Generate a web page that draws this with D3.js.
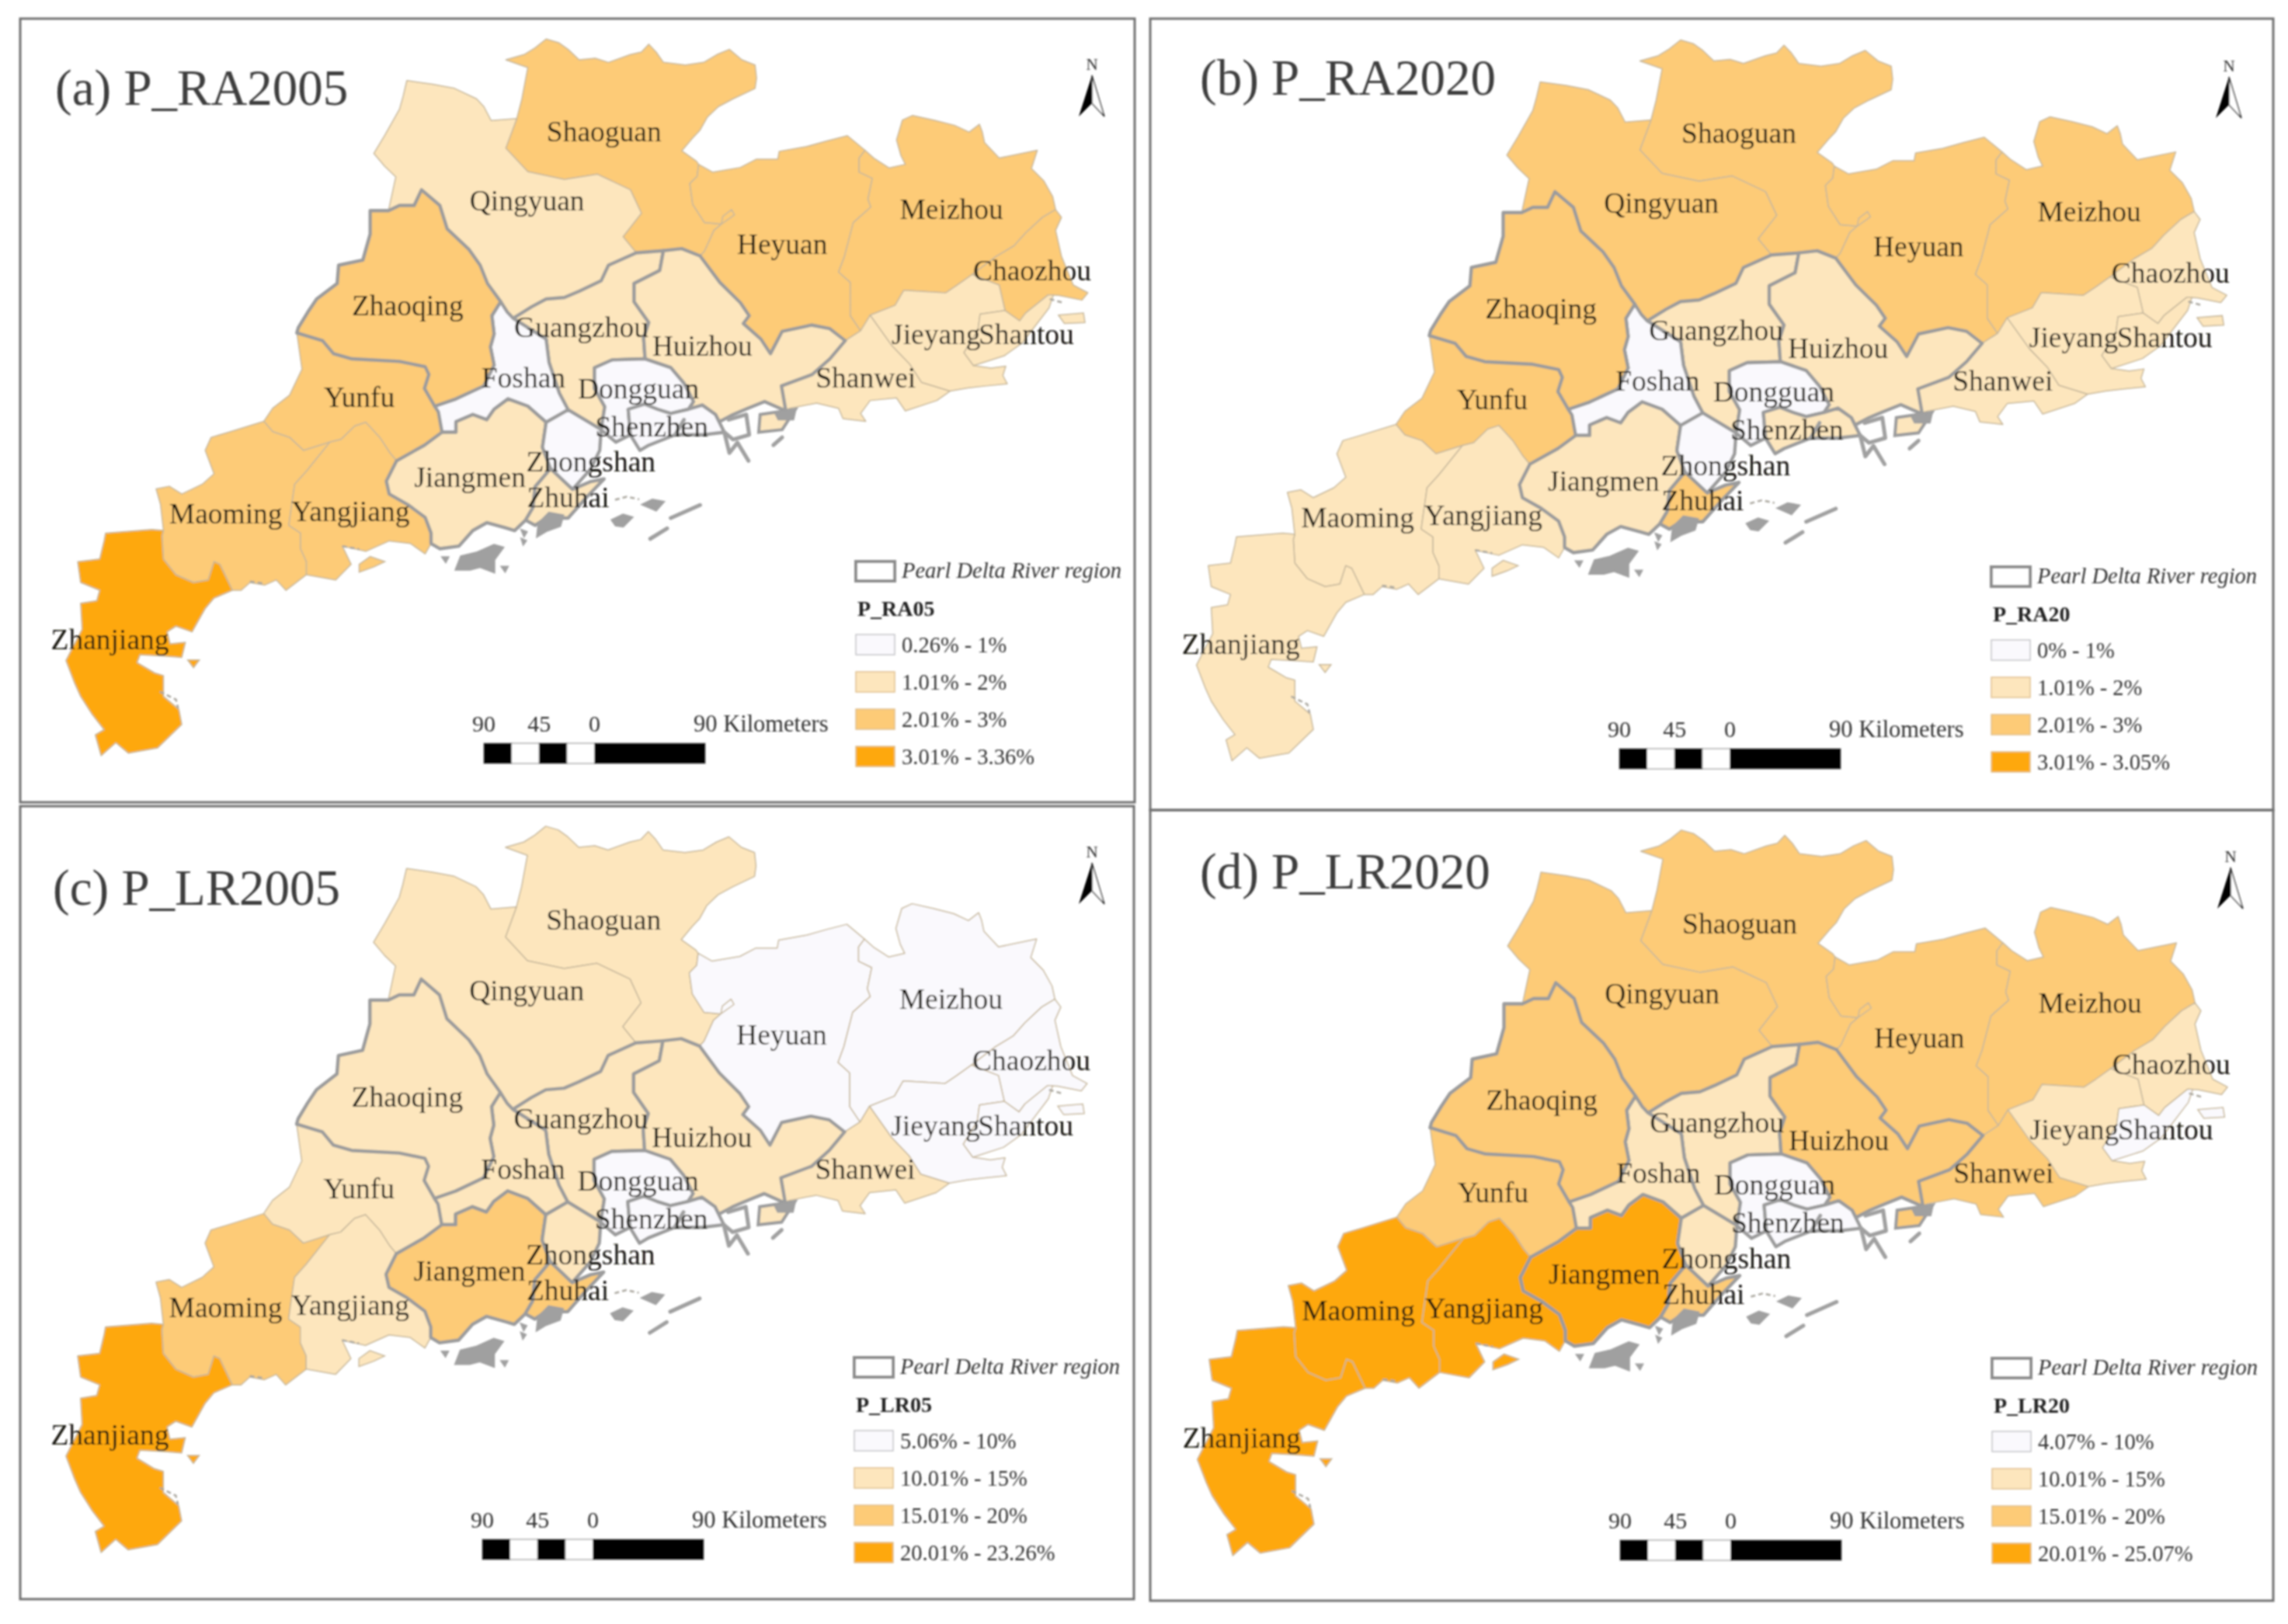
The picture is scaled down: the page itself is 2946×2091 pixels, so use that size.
<!DOCTYPE html>
<html>
<head>
<meta charset="utf-8">
<title>Pearl River Delta maps</title>
<script src="https://cdn.jsdelivr.net/npm/d3@7"></script>
<style>
html, body { margin: 0; padding: 0; background: #fff; }
svg { display: block; }
text { font-family: "Liberation Serif", serif; }
</style>
</head>
<body>
<script>
// Values: class 0..3 for each city in each panel
var cities = ['Shaoguan', 'Qingyuan', 'Heyuan', 'Meizhou', 'Chaozhou', 'Zhaoqing', 'Yunfu', 'Maoming', 'Yangjiang', 'Zhanjiang',
    'Guangzhou', 'Huizhou', 'Foshan', 'Dongguan', 'Shenzhen', 'Jiangmen', 'Zhongshan', 'Zhuhai', 'Shanwei', 'Jieyang', 'Shantou'];
var classRA2005 = [2, 1, 2, 2, 2, 2, 2, 2, 2, 3, 1, 1, 0, 0, 0, 1, 0, 1, 1, 1, 1];
var classRA2020 = [2, 2, 2, 2, 1, 2, 2, 1, 1, 1, 1, 1, 0, 0, 1, 1, 0, 2, 1, 1, 1];
var classLR2005 = [1, 1, 0, 0, 0, 1, 1, 2, 1, 3, 1, 1, 1, 0, 0, 2, 1, 2, 1, 0, 0];
var classLR2020 = [2, 2, 2, 2, 1, 2, 2, 3, 3, 3, 1, 2, 1, 0, 0, 3, 1, 2, 2, 1, 0];

var titles = ['(a) P_RA2005', '(b) P_RA2020', '(c) P_LR2005', '(d) P_LR2020'];
var legendTitles = ['P_RA05', 'P_RA20', 'P_LR05', 'P_LR20'];
var rangesRA2005 = ['0.26% - 1%', '1.01% - 2%', '2.01% - 3%', '3.01% - 3.36%'];
var rangesRA2020 = ['0% - 1%', '1.01% - 2%', '2.01% - 3%', '3.01% - 3.05%'];
var rangesLR2005 = ['5.06% - 10%', '10.01% - 15%', '15.01% - 20%', '20.01% - 23.26%'];
var rangesLR2020 = ['4.07% - 10%', '10.01% - 15%', '15.01% - 20%', '20.01% - 25.07%'];
var scaleBarKm = [-90, -67.5, -45, -22.5, 0, 90];
var scaleBarTicks = [-90, -45, 0];

var classColors = ['#faf9fd', '#fde6bd', '#fdcb77', '#fea80a'];
var prdCities = ['Guangzhou', 'Huizhou', 'Foshan', 'Dongguan', 'Shenzhen', 'Jiangmen', 'Zhongshan', 'Zhuhai', 'Zhaoqing'];

// Map outline in map units, shared boundaries kept once
var arcs = {
    shaoNorth: [[705, 228], [712, 190], [720, 130], [690, 115], [715, 105], [730, 92], [745, 75], [762, 82], [775, 95], [790, 115], [812, 112], [830, 120], [860, 105], [875, 100], [885, 85], [895, 100], [905, 120], [935, 125], [960, 120], [978, 105], [995, 95], [1012, 115], [1030, 125], [1032, 150], [1030, 170], [1000, 190], [980, 205], [965, 225], [955, 250], [945, 265], [930, 290], [950, 310], [953, 316]],
    shaoHeyuan: [[953, 316], [951, 339], [941, 353], [945, 393], [961, 428], [984, 431], [1002, 413], [998, 403], [986, 416], [984, 431], [974, 443], [961, 483], [955, 492]],
    shaoQing: [[705, 228], [690, 285], [720, 330], [770, 345], [815, 335], [860, 365], [875, 410], [850, 455], [868, 486]],
    shaoGz: [[868, 486], [905, 482]],
    shaoHz: [[905, 482], [930, 478], [955, 492]],
    qingOuter: [[705, 228], [670, 232], [660, 205], [650, 190], [620, 170], [590, 162], [555, 155], [550, 185], [545, 210], [525, 260], [510, 295], [525, 320], [540, 340], [530, 405]],
    qingZhao: [[530, 405], [545, 395], [565, 395], [575, 365], [600, 395], [610, 440], [640, 480], [655, 510], [665, 545], [683, 580]],
    qingFo: [[683, 580], [692, 600], [700, 612]],
    qingGz: [[700, 612], [725, 590], [745, 575], [770, 572], [790, 560], [820, 540], [830, 510], [868, 486]],
    heyNorth: [[953, 316], [972, 331], [1010, 322], [1032, 306], [1061, 306], [1063, 291], [1100, 282], [1128, 271], [1156, 261], [1180, 289]],
    heyMei: [[1180, 289], [1172, 304], [1172, 331], [1190, 343], [1184, 383], [1188, 398], [1164, 428], [1152, 493], [1144, 523], [1160, 543], [1160, 607], [1174, 636]],
    heyShan: [[1153, 655], [1174, 636]],
    hzHey: [[955, 492], [982, 543], [1010, 582], [1022, 607], [1014, 622], [1038, 652], [1051, 680], [1067, 637], [1107, 625], [1132, 632], [1153, 655]],
    meiNorth: [[1180, 289], [1192, 304], [1213, 323], [1235, 316], [1229, 299], [1223, 269], [1231, 231], [1245, 222], [1274, 231], [1302, 241], [1322, 254], [1336, 239], [1340, 254], [1343, 274], [1363, 304], [1415, 289], [1407, 324], [1424, 348], [1436, 378], [1440, 403]],
    meiChao: [[1440, 403], [1422, 418], [1399, 448], [1383, 473], [1359, 493], [1326, 528]],
    meiJie: [[1326, 528], [1306, 548], [1290, 563], [1233, 558], [1221, 587], [1187, 606]],
    meiShan: [[1187, 606], [1174, 636]],
    chaoOuter: [[1440, 403], [1448, 418], [1440, 443], [1448, 493], [1464, 548], [1484, 563], [1476, 577], [1444, 568], [1430, 567]],
    chaoShan: [[1430, 567], [1399, 602], [1391, 617], [1371, 597]],
    chaoJie: [[1371, 597], [1363, 548], [1326, 528]],
    jieShan: [[1371, 597], [1337, 604], [1334, 635], [1315, 678], [1328, 703]],
    jieCoast: [[1328, 703], [1352, 708], [1372, 704], [1368, 722], [1374, 738], [1345, 742], [1320, 746], [1296, 752]],
    jieShanwei: [[1296, 752], [1257, 735], [1241, 700], [1217, 665], [1187, 606]],
    shanCoast: [[1430, 567], [1437, 567], [1431, 592], [1394, 660], [1370, 684], [1328, 703]],
    swCoast: [[1296, 752], [1278, 770], [1235, 790], [1223, 765], [1187, 770], [1174, 795], [1181, 810], [1150, 805], [1144, 785], [1114, 775], [1077, 785], [1072, 790]],
    hzSw: [[1153, 655], [1132, 690], [1108, 720], [1066, 742], [1072, 790]],
    hzCoast: [[1072, 790], [1043, 772], [1020, 785], [1000, 797], [981, 811], [976, 797]],
    gzHz: [[905, 482], [900, 520], [865, 545], [865, 580], [885, 620], [878, 650], [880, 690]],
    dgHz: [[880, 690], [915, 707], [933, 737], [946, 772], [939, 787]],
    szHz: [[939, 787], [958, 779], [976, 797]],
    dgSz: [[939, 787], [915, 795], [897, 787], [879, 777], [857, 787], [860, 836]],
    szCoast: [[976, 797], [988, 831], [958, 836], [921, 836], [885, 856], [873, 866], [860, 836]],
    dgCoast: [[860, 836], [840, 850], [820, 826]],
    gzDg: [[880, 690], [835, 692], [811, 707], [811, 747], [825, 782], [820, 826]],
    gzZs: [[820, 826], [775, 788]],
    foGz: [[700, 612], [745, 652], [749, 697], [763, 756], [775, 788]],
    foZs: [[775, 788], [745, 812]],
    foJm: [[745, 812], [720, 781], [693, 767], [674, 787], [664, 807], [645, 797], [622, 811], [622, 831], [603, 831]],
    foYf: [[603, 831], [598, 792], [593, 781]],
    foZq: [[593, 781], [622, 767], [660, 742], [674, 702], [669, 667], [674, 642], [671, 607], [683, 580]],
    zqOuter: [[530, 405], [505, 405], [505, 450], [495, 500], [462, 510], [460, 545], [432, 575], [420, 600], [407, 630], [405, 640]],
    zqYf: [[405, 640], [440, 655], [455, 680], [480, 690], [545, 695], [580, 705], [585, 720], [579, 747], [593, 781]],
    yfOuter: [[360, 810], [372, 785], [395, 760], [412, 710], [405, 640]],
    jmYf: [[603, 831], [579, 856], [541, 886]],
    yfYj: [[541, 886], [532, 871], [518, 841], [499, 812], [484, 819], [465, 845], [450, 850]],
    yfMm: [[450, 850], [414, 866], [395, 841], [372, 830], [360, 810]],
    mmYj: [[450, 850], [418, 906], [402, 931], [398, 970], [394, 1010], [410, 1025], [410, 1055], [418, 1080], [418, 1105]],
    mmCoast: [[418, 1105], [390, 1135], [377, 1115], [361, 1125], [341, 1120], [329, 1135], [317, 1135]],
    zjMm: [[223, 1020], [221, 1030], [223, 1075], [240, 1105], [264, 1120], [284, 1115], [292, 1080], [300, 1085], [317, 1135]],
    mmOuter: [[223, 1020], [219, 970], [213, 940], [231, 935], [248, 950], [276, 931], [292, 911], [280, 866], [288, 841], [312, 831], [360, 810]],
    yjJm: [[541, 886], [527, 925], [531, 950], [556, 970], [580, 995], [588, 1025], [588, 1045]],
    yjCoast: [[588, 1045], [580, 1065], [560, 1045], [531, 1040], [499, 1060], [467, 1050], [479, 1085], [458, 1115], [418, 1105]],
    jmCoast: [[717, 1000], [702, 1020], [690, 1015], [664, 1005], [645, 1020], [626, 1050], [600, 1055], [588, 1045]],
    jmZs: [[745, 812], [740, 860], [751, 901]],
    jmZh: [[751, 901], [730, 936], [727, 976], [717, 1000]],
    zsCoast: [[820, 826], [818, 866], [806, 901], [781, 941]],
    zsZh: [[781, 941], [751, 901]],
    zhEast: [[781, 941], [806, 926], [824, 921], [800, 956], [775, 996], [745, 996], [730, 1010], [717, 1000]],
    zjOuter: [[223, 1020], [207, 1018], [144, 1025], [142, 1040], [136, 1075], [106, 1080], [110, 1120], [136, 1135], [132, 1155], [110, 1160], [112, 1210], [90, 1270], [102, 1314], [110, 1339], [126, 1374], [142, 1403], [130, 1413], [138, 1453], [158, 1428], [175, 1448], [215, 1438], [248, 1393], [244, 1364], [223, 1339], [223, 1299], [211, 1294], [187, 1274], [191, 1259], [228, 1262], [248, 1264], [253, 1235], [232, 1238], [228, 1215], [240, 1204], [262, 1215], [270, 1195], [280, 1170], [292, 1150], [317, 1135]]
};

var regionArcs = {
    Shaoguan: ['shaoNorth', 'shaoHeyuan', '-shaoHz', '-shaoGz', '-shaoQing'],
    Qingyuan: ['qingOuter', 'qingZhao', 'qingFo', 'qingGz', '-shaoQing'],
    Heyuan: ['heyNorth', 'heyMei', '-heyShan', '-hzHey', '-shaoHeyuan'],
    Meizhou: ['meiNorth', 'meiChao', 'meiJie', 'meiShan', '-heyMei'],
    Chaozhou: ['chaoOuter', 'chaoShan', 'chaoJie', '-meiChao'],
    Jieyang: ['-chaoJie', 'jieShan', 'jieCoast', 'jieShanwei', '-meiJie'],
    Shantou: ['-chaoShan', 'shanCoast', '-jieShan'],
    Shanwei: ['-jieShanwei', 'swCoast', '-hzSw', 'heyShan', '-meiShan'],
    Huizhou: ['shaoHz', 'hzHey', 'hzSw', 'hzCoast', '-szHz', '-dgHz', '-gzHz'],
    Guangzhou: ['qingGz', 'shaoGz', 'gzHz', 'gzDg', 'gzZs', '-foGz'],
    Dongguan: ['dgHz', 'dgSz', 'dgCoast', '-gzDg'],
    Shenzhen: ['szHz', 'szCoast', '-dgSz'],
    Foshan: ['foGz', 'foZs', 'foJm', 'foYf', 'foZq', 'qingFo'],
    Zhaoqing: ['zqOuter', 'zqYf', 'foZq', '-qingZhao'],
    Yunfu: ['yfOuter', 'zqYf', '-foYf', 'jmYf', 'yfYj', 'yfMm'],
    Maoming: ['-yfMm', 'mmYj', 'mmCoast', '-zjMm', 'mmOuter'],
    Yangjiang: ['-yfYj', 'yjJm', 'yjCoast', '-mmYj'],
    Zhanjiang: ['zjOuter', '-zjMm'],
    Jiangmen: ['-foJm', 'jmZs', 'jmZh', 'jmCoast', '-yjJm', '-jmYf'],
    Zhongshan: ['-foZs', '-gzZs', 'zsCoast', 'zsZh', '-jmZs'],
    Zhuhai: ['-zsZh', 'zhEast', '-jmZh']
};

// Islands that take the colour of their city
var cityIslands = [
    { city: 'Huizhou', ring: [[1037, 797], [1085, 787], [1067, 826], [1035, 831]] },
    { city: 'Yangjiang', ring: [[490, 1085], [505, 1070], [525, 1080], [510, 1090], [490, 1100]] },
    { city: 'Shantou', ring: [[1444, 606], [1478, 602], [1480, 620], [1452, 622]] },
    { city: 'Zhanjiang', ring: [[256, 1269], [272, 1269], [264, 1284]] }
];
// Grey islands and channels of the delta
var greyIslands = [
    [[622, 1095], [629, 1070], [650, 1063], [674, 1048], [686, 1053], [674, 1076], [674, 1100], [655, 1090], [641, 1095]],
    [[733, 1031], [735, 1006], [749, 986], [768, 991], [764, 1011], [745, 1021]],
    [[835, 1000], [850, 990], [862, 995], [850, 1012], [840, 1010]],
    [[877, 970], [890, 961], [905, 965], [895, 981]],
    [[1058, 795], [1085, 787], [1082, 806], [1062, 806]],
    [[604, 1072], [611, 1072], [608, 1080]],
    [[685, 1090], [692, 1090], [689, 1098]],
    [[712, 1020], [718, 1023], [715, 1030]],
    [[712, 1037], [717, 1040], [714, 1046]]
];
var greyLines = [
    [[915, 996], [955, 971]],
    [[887, 1036], [910, 1016]],
    [[988, 831], [995, 871], [1006, 851], [1021, 886]],
    [[994, 807], [1018, 797], [1022, 836], [1000, 845], [988, 831]],
    [[933, 807], [921, 836]],
    [[1055, 856], [1067, 841]]
];
var coastSpecks = [
    [[341, 1118], [361, 1122]],
    [[467, 1050], [490, 1056]],
    [[218, 1330], [240, 1345], [243, 1362]],
    [[839, 961], [855, 955], [872, 960]],
    [[1432, 575], [1450, 582]]
];

var labelAnchors = {
    Shaoguan: [824, 255], Qingyuan: [719, 388], Heyuan: [1067, 472], Meizhou: [1298, 405], Chaozhou: [1408, 522],
    Zhaoqing: [556, 590], Yunfu: [490, 765], Maoming: [308, 990], Yangjiang: [478, 985], Zhanjiang: [150, 1232],
    Guangzhou: [793, 632], Huizhou: [958, 667], Foshan: [714, 728], Dongguan: [871, 750], Shenzhen: [889, 822],
    Jiangmen: [641, 920], Zhongshan: [806, 890], Zhuhai: [775, 958], Shanwei: [1181, 728], Jieyang: [1277, 645], Shantou: [1400, 645]
};

// Layout of each panel: frame, map ranges, title, offsets of legend and north arrow
var panels = [
    { frame: [26, 24, 1461, 1033], xRange: [0, 1480], yRange: [0, 1050], title: [71, 135], legend: [0, 0], north: [0, 0], classes: classRA2005, ranges: rangesRA2005 },
    { frame: [1481, 24, 2927, 1043], xRange: [1455, 2947], yRange: [1, 1057], title: [1545, 122], legend: [1462, 7], north: [1464, 2], classes: classRA2020, ranges: rangesRA2020 },
    { frame: [26, 1038, 1460, 2059], xRange: [0, 1479], yRange: [1013, 2077], title: [68, 1165], legend: [-2, 1025], north: [0, 1014], classes: classLR2005, ranges: rangesLR2005 },
    { frame: [1481, 1043, 2927, 2061], xRange: [1456, 2948], yRange: [1018, 2081], title: [1545, 1144], legend: [1463, 1026], north: [1466, 1020], classes: classLR2020, ranges: rangesLR2020 }
];

var width = 2946, height = 2091;

function ringFromArcs(names) {
    var pts = [];
    names.forEach(function (name) {
        var rev = name.charAt(0) === '-',
            arc = arcs[rev ? name.slice(1) : name];
        pts = pts.concat(rev ? arc.slice().reverse() : arc);
    });
    return pts;
}

var svg = d3.select('body').append('svg')
    .attr('width', width)
    .attr('height', height)
    .attr('viewBox', [0, 0, width, height]);

svg.append('rect').attr('width', width).attr('height', height).attr('fill', '#fff');

// reference is a soft scan
svg.append('defs').append('filter').attr('id', 'soft')
    .attr('filterUnits', 'userSpaceOnUse')
    .attr('x', 0).attr('y', 0).attr('width', width).attr('height', height)
    .append('feGaussianBlur').attr('stdDeviation', 0.9);

var root = svg.append('g').attr('filter', 'url(#soft)');

panels.forEach(function (p, i) {
    var g = root.append('g').attr('class', 'panel'),
        x = d3.scaleLinear().domain([0, 1568]).range(p.xRange),
        y = d3.scaleLinear().domain([0, 1568]).range(p.yRange),
        line = d3.line().x(function (d) { return x(d[0]); }).y(function (d) { return y(d[1]); }),
        color = d3.scaleOrdinal().domain([0, 1, 2, 3]).range(classColors),
        cityClass = function (name) { return p.classes[cities.indexOf(name)]; };

    g.append('rect')
        .attr('x', p.frame[0]).attr('y', p.frame[1])
        .attr('width', p.frame[2] - p.frame[0]).attr('height', p.frame[3] - p.frame[1])
        .attr('fill', 'none').attr('stroke', '#707070').attr('stroke-width', 3);

    var outer = cities.filter(function (c) { return prdCities.indexOf(c) < 0; }),
        drawCity = function (c, strokeCol, sw) {
            g.append('path')
                .attr('class', 'city')
                .attr('d', line(ringFromArcs(regionArcs[c])) + 'Z')
                .attr('fill', color(cityClass(c)))
                .attr('stroke', strokeCol)
                .attr('stroke-width', sw)
                .attr('stroke-linejoin', 'round');
        };

    outer.forEach(function (c) { drawCity(c, '#c7b89c', 1.5); });

    g.selectAll('path.speck').data(coastSpecks).enter().append('path')
        .attr('class', 'speck')
        .attr('d', line)
        .attr('fill', 'none').attr('stroke', '#aaa79f').attr('stroke-width', 2.5)
        .attr('stroke-dasharray', '6 4');

    cityIslands.forEach(function (d) {
        g.append('path')
            .attr('d', line(d.ring) + 'Z')
            .attr('fill', color(cityClass(d.city)))
            .attr('stroke', prdCities.indexOf(d.city) < 0 ? '#c7b89c' : '#9c9c9c')
            .attr('stroke-width', prdCities.indexOf(d.city) < 0 ? 1.5 : 4);
    });

    prdCities.forEach(function (c) { drawCity(c, '#9c9c9c', 4.4); });

    g.selectAll('path.island').data(greyIslands).enter().append('path')
        .attr('class', 'island')
        .attr('d', function (d) { return line(d) + 'Z'; })
        .attr('fill', '#a0a0a0').attr('stroke', '#a0a0a0').attr('stroke-width', 3);

    g.selectAll('path.channel').data(greyLines).enter().append('path')
        .attr('class', 'channel')
        .attr('d', line)
        .attr('fill', 'none').attr('stroke', '#a0a0a0').attr('stroke-width', 5)
        .attr('stroke-linejoin', 'round').attr('stroke-linecap', 'round');

    g.selectAll('text.city-label').data(cities).enter().append('text')
        .attr('class', 'city-label')
        .attr('x', function (d) { return x(labelAnchors[d][0]); })
        .attr('y', function (d) { return y(labelAnchors[d][1]); })
        .attr('dy', '0.3em')
        .attr('text-anchor', 'middle')
        .attr('font-size', 37.5)
        .attr('fill', '#17130e')
        .text(function (d) { return d; });

    g.append('text')
        .attr('x', p.title[0]).attr('y', p.title[1])
        .attr('font-size', 65).attr('fill', '#3c3c3c')
        .text(titles[i]);

    // Legend
    var leg = g.append('g').attr('transform', 'translate(' + p.legend[0] + ',' + p.legend[1] + ')');
    leg.append('rect')
        .attr('x', 1102).attr('y', 723).attr('width', 50).attr('height', 25)
        .attr('fill', '#fff').attr('stroke', '#8c8c8c').attr('stroke-width', 4);
    leg.append('text')
        .attr('x', 1161).attr('y', 744)
        .attr('font-size', 28.5).attr('font-style', 'italic').attr('fill', '#333')
        .text('Pearl Delta River region');
    leg.append('text')
        .attr('x', 1104).attr('y', 793)
        .attr('font-size', 28).attr('font-weight', 'bold').attr('fill', '#222')
        .text(legendTitles[i]);

    var rowY = d3.scaleLinear().domain([0, 3]).range([830, 974]);
    p.ranges.forEach(function (label, k) {
        leg.append('rect')
            .attr('x', 1102).attr('y', rowY(k) - 13).attr('width', 50).attr('height', 26)
            .attr('fill', color(k))
            .attr('stroke', k === 0 ? '#c4c4c8' : '#e0c090').attr('stroke-width', 1.5);
        leg.append('text')
            .attr('x', 1161).attr('y', rowY(k) + 10)
            .attr('font-size', 28.5).attr('fill', '#333')
            .text(label);
    });

    // Scale bar
    var km = d3.scaleLinear().domain([-90, 90]).range([623, 908]);
    d3.pairs(scaleBarKm).forEach(function (s, k) {
        leg.append('rect')
            .attr('x', km(s[0])).attr('y', 957)
            .attr('width', km(s[1]) - km(s[0])).attr('height', 26)
            .attr('fill', k % 2 === 0 ? '#000' : '#fff')
            .attr('stroke', '#555').attr('stroke-width', 0.8);
    });
    scaleBarTicks.forEach(function (t) {
        leg.append('text')
            .attr('x', km(t)).attr('y', 942)
            .attr('text-anchor', 'middle')
            .attr('font-size', 30).attr('fill', '#333')
            .text(Math.abs(t));
    });
    leg.append('text')
        .attr('x', km(90) - 15).attr('y', 942)
        .attr('font-size', 30.5).attr('fill', '#333')
        .text('90 Kilometers');

    // North arrow
    var n = g.append('g').attr('transform', 'translate(' + p.north[0] + ',' + p.north[1] + ')');
    n.append('text')
        .attr('x', 1406).attr('y', 90)
        .attr('text-anchor', 'middle')
        .attr('font-family', 'Liberation Sans')
        .attr('font-size', 21).attr('fill', '#333')
        .text('N');
    n.append('path').attr('d', 'M1406,97L1389,150L1406,133Z').attr('fill', '#000');
    n.append('path').attr('d', 'M1406,97L1422,150L1406,133Z').attr('fill', '#fff').attr('stroke', '#333').attr('stroke-width', 1.5);
});
</script>
</body>
</html>
